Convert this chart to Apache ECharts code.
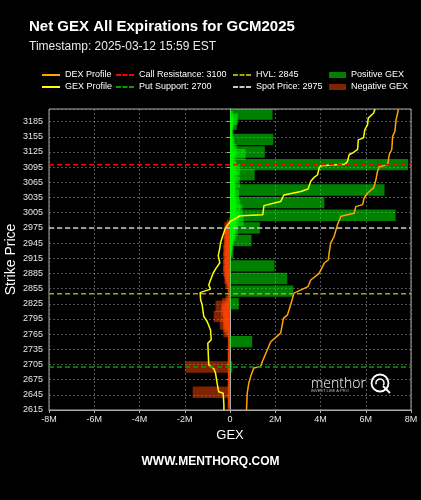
<!DOCTYPE html>
<html><head><meta charset="utf-8">
<script src="https://cdn.jsdelivr.net/npm/echarts@6/dist/echarts.min.js"></script>
<style>html,body{margin:0;padding:0;background:#000;}#c{width:421px;height:500px;}</style>
</head><body><div id="c"></div>
<script>
// ---------- data ----------
const strikeMin = 2615, strikeMax = 3210, strikeStep = 30;
const gexMin = -8, gexMax = 8, gexStep = 2;

const posStrikes = [3200,3195,3190,3185,3180,3175,3170,3165,3160,3155,3150,3145,3140,3135,3130,3125,3120,3115,3110,3105,3100,3095,3090,3085,3080,3075,3070,3065,3060,3055,3050,3045,3040,3035,3030,3025,3020,3015,3010,3005,3000,2995,2990,2985,2980,2975,2970,2965,2960,2955,2950,2945,2940,2935,2930,2925,2900,2875,2850,2825,2750,2700];
const posGex =     [1.88,0.15,0.35,0.15,0.30,0.10,0.15,0.10,0.10,0.10,1.91,0.15,0.20,0.10,0.30,1.54,0.69,0.15,0.25,0.15,7.87,0.30,0.45,0.20,1.09,0.35,0.20,0.45,0.20,0.25,6.83,0.20,0.40,0.20,0.30,4.17,0.45,0.25,0.55,0.25,7.32,0.40,0.60,0.30,0.25,1.32,0.35,0.20,0.25,0.15,0.95,0.15,0.10,0.08,0.08,0.15,1.97,2.53,2.80,0.39,0.98,0.10];

const negStrikes = [2985,2980,2975,2970,2965,2960,2955,2950,2945,2940,2935,2930,2925,2920,2915,2910,2905,2900,2895,2890,2885,2880,2875,2870,2865,2860,2855,2850,2845,2840,2835,2830,2825,2820,2815,2810,2805,2800,2795,2790,2785,2780,2775,2770,2765,2760,2755,2750,2745,2740,2735,2730,2725,2720,2715,2710,2705,2700,2695,2690,2685,2680,2675,2670,2665,2660,2655,2650,2645,2640,2635,2630,2625,2620];
const negGex =     [-0.05,-0.15,-0.25,-0.20,-0.28,-0.20,-0.25,-0.20,-0.28,-0.20,-0.25,-0.30,-0.20,-0.25,-0.30,-0.20,-0.25,-0.30,-0.20,-0.30,-0.25,-0.20,-0.25,-0.15,-0.20,-0.10,-0.10,-0.05,-0.05,-0.10,-0.10,-0.20,-0.35,-0.64,-0.30,-0.40,-0.30,-0.72,-0.30,-0.25,-0.45,-0.30,-0.20,-0.29,-0.10,-0.08,-0.08,-0.10,-0.05,-0.08,-0.08,-0.10,-0.08,-0.08,-0.10,-0.08,-0.10,-1.97,-0.10,-0.08,-0.08,-0.10,-0.08,-0.08,-0.10,-0.08,-0.10,-1.65,-0.10,-0.08,-0.08,-0.10,-0.08,-0.10];

const gexProfileStrikes = [3210,3202,3192,3179,3169,3153,3149,3130,3123,3120,3106,3101,3098,3093,3080,3075,3067,3052,3047,3040,3027,3019,3001,2999,2995,2988,2975,2958,2945,2935,2920,2906,2895,2885,2872,2862,2854,2847,2833,2823,2800,2790,2773,2754,2747,2704,2701,2697,2688,2668,2651,2648,2625,2615];
const gexProfileValues  = [6.41,6.35,6.11,6.08,5.96,5.90,5.67,5.64,5.42,5.27,5.19,5.08,4.01,3.94,3.87,3.72,3.57,3.45,3.13,2.38,2.24,1.50,1.45,0.45,0.30,0.02,-0.20,-0.33,-0.42,-0.45,-0.52,-0.45,-0.62,-0.75,-0.86,-0.94,-0.86,-1.32,-1.30,-1.23,-1.16,-1.01,-0.86,-0.83,-0.98,-0.94,-0.90,-0.72,-0.64,-0.57,-0.50,-0.30,-0.27,-0.27];

const dexProfileStrikes = [3210,3202,3189,3166,3156,3130,3120,3106,3100,3096,3087,3070,3054,3044,3034,3021,3017,3004,2998,2981,2958,2945,2925,2912,2905,2885,2872,2859,2846,2823,2803,2796,2767,2750,2734,2711,2701,2698,2681,2668,2648,2615];
const dexProfileValues  = [7.44,7.41,7.34,7.29,7.19,7.15,7.04,6.99,6.97,6.60,6.52,6.45,6.35,6.08,5.93,5.86,5.56,5.49,4.90,4.75,4.60,4.45,4.38,4.35,4.16,3.94,3.57,3.45,2.83,2.68,2.54,2.36,2.24,1.80,1.65,1.43,1.35,1.05,0.91,0.83,0.76,0.73];

const callResistance = 3100, putSupport = 2700, hvl = 2845, spotPrice = 2975;
const titleText = 'Net GEX All Expirations for GCM2025';
const subtitleText = 'Timestamp: 2025-03-12 15:59 EST';

// ---------- chart ----------
const FONT = '"Liberation Sans", Arial, sans-serif';
const BAR_H = 22.5;
const chart = echarts.init(document.getElementById('c'), null, {renderer:'canvas'});

function barRender(params, api) {
  const v = api.value(0), s = api.value(1);
  const a = api.coord([0, s + BAR_H / 2]);
  const b = api.coord([v, s - BAR_H / 2]);
  const cs = params.coordSys;
  const r = echarts.graphic.clipRectByRect(
    {x: Math.min(a[0], b[0]), y: Math.min(a[1], b[1]), width: Math.abs(b[0] - a[0]), height: Math.abs(b[1] - a[1])},
    {x: cs.x, y: cs.y, width: cs.width, height: cs.height});
  return r && {type: 'rect', shape: r, style: {fill: api.visual('color')}};
}
const zip = (xs, ys) => xs.map((s, i) => [ys[i], s]);
const levelLine = (name, level, color) => ({
  name, type: 'line', data: [[gexMin, level], [gexMax, level]], symbol: 'none', silent: true, z: 6,
  lineStyle: {color, width: 1.5, type: [5, 3]}, itemStyle: {color}
});

const SOLID_ICON = 'path://M0,0h18v2h-18z';
const DASH_ICON = 'path://M0,0h5v2h-5z M6.5,0h5v2h-5z M13,0h5v2h-5z';
const legendBase = {orient: 'vertical', top: 70, padding: 0, itemGap: 2, itemWidth: 18, itemHeight: 2,
  selectedMode: false, textStyle: {color: '#ffffff', fontSize: 9, fontFamily: FONT, lineHeight: 10}};

const option = {
  backgroundColor: '#000000',
  animation: false,
  textStyle: {fontFamily: FONT},
  title: [
    {text: titleText, left: 29, top: 19, padding: 0, textStyle: {color: '#ffffff', fontSize: 15, fontWeight: 'bold', fontFamily: FONT}},
    {text: subtitleText, left: 29, top: 41, padding: 0, textStyle: {color: '#e8e8e8', fontSize: 12, fontWeight: 'normal', fontFamily: FONT}},
    {text: 'WWW.MENTHORQ.COM', left: 'center', top: 456, padding: 0, textStyle: {color: '#ffffff', fontSize: 12, fontWeight: 'bold', fontFamily: FONT}}
  ],
  legend: [
    Object.assign({}, legendBase, {left: 42, data: [{name: 'DEX Profile', icon: SOLID_ICON}, {name: 'GEX Profile', icon: SOLID_ICON}]}),
    Object.assign({}, legendBase, {left: 116, data: [{name: 'Call Resistance: ' + callResistance, icon: DASH_ICON}, {name: 'Put Support: ' + putSupport, icon: DASH_ICON}]}),
    Object.assign({}, legendBase, {left: 233, data: [{name: 'HVL: ' + hvl, icon: DASH_ICON}, {name: 'Spot Price: ' + spotPrice, icon: DASH_ICON}]}),
    Object.assign({}, legendBase, {left: 329, top: 70, itemGap: 2, itemWidth: 17, itemHeight: 6,
      data: [{name: 'Positive GEX', icon: 'rect'}, {name: 'Negative GEX', icon: 'rect'}]})
  ],
  grid: {left: 49, right: 10, top: 109, bottom: 90, show: true, borderColor: '#aaaaaa', borderWidth: 1,
    containLabel: false, outerBoundsMode: 'none'},
  xAxis: {
    type: 'value', min: gexMin, max: gexMax, interval: gexStep,
    name: 'GEX', nameLocation: 'middle', nameGap: 15,
    nameTextStyle: {color: '#ffffff', fontSize: 13, fontFamily: FONT},
    axisLine: {show: true, lineStyle: {color: '#aaaaaa'}},
    axisTick: {show: true, length: 3, lineStyle: {color: '#aaaaaa'}},
    axisLabel: {color: '#e6e6e6', fontSize: 9, margin: 5, fontFamily: FONT,
      formatter: v => v === 0 ? '0' : v + 'M'},
    splitLine: {show: true, lineStyle: {color: 'rgba(150,150,150,0.55)', type: [2, 2], width: 1}}
  },
  yAxis: {
    type: 'value', min: strikeMin, max: strikeMax, interval: strikeStep,
    name: 'Strike Price', nameLocation: 'middle', nameGap: 31, nameMoveOverlap: false,
    nameTextStyle: {color: '#ffffff', fontSize: 14, fontFamily: FONT},
    axisLine: {show: true, lineStyle: {color: '#aaaaaa'}},
    axisTick: {show: true, length: 3, lineStyle: {color: '#aaaaaa'}},
    axisLabel: {color: '#e6e6e6', fontSize: 9, margin: 6, fontFamily: FONT, showMaxLabel: false,
      formatter: v => String(v)},
    splitLine: {show: true, lineStyle: {color: 'rgba(150,150,150,0.55)', type: [2, 2], width: 1}}
  },
  series: [
    {name: 'Positive GEX', type: 'custom', renderItem: barRender, data: zip(posStrikes, posGex),
      encode: {x: 0, y: 1}, itemStyle: {color: 'rgba(0,255,0,0.5)'}, z: 2, silent: true},
    {name: 'Negative GEX', type: 'custom', renderItem: barRender, data: zip(negStrikes, negGex),
      encode: {x: 0, y: 1}, itemStyle: {color: 'rgba(255,69,0,0.5)'}, z: 2, silent: true},
    {name: 'DEX Profile', type: 'line', data: zip(dexProfileStrikes, dexProfileValues), symbol: 'none', z: 4,
      lineStyle: {color: '#ffa500', width: 1.5}, itemStyle: {color: '#ffa500'}},
    {name: 'GEX Profile', type: 'line', data: zip(gexProfileStrikes, gexProfileValues), symbol: 'none', z: 4,
      lineStyle: {color: '#ffff00', width: 1.5}, itemStyle: {color: '#ffff00'}},
    levelLine('Call Resistance: ' + callResistance, callResistance, '#ff0000'),
    levelLine('Put Support: ' + putSupport, putSupport, '#00a000'),
    levelLine('HVL: ' + hvl, hvl, '#a8a800'),
    levelLine('Spot Price: ' + spotPrice, spotPrice, '#c8c8c8')
  ],
  graphic: [
    {type: 'text', left: 311, top: 377, z: 10, silent: true,
      style: {text: 'menthor', fill: '#ffffff', fontSize: 14, fontFamily: '"Open Sans", sans-serif', fontWeight: 300}},
    {type: 'text', left: 311, top: 389, z: 10, silent: true,
      style: {text: 'INVEST LIKE A PRO', fill: '#bbbbbb', fontSize: 4, fontFamily: FONT}},
    {type: 'circle', z: 10, silent: true, shape: {cx: 380, cy: 383, r: 8.5},
      style: {fill: 'none', stroke: '#ffffff', lineWidth: 1.8}},
    {type: 'arc', z: 10, silent: true, shape: {cx: 380, cy: 383, r: 4, startAngle: Math.PI * 0.9, endAngle: Math.PI * 2.2},
      style: {fill: 'none', stroke: '#ffffff', lineWidth: 1.5}},
    {type: 'line', z: 10, silent: true, shape: {x1: 383, y1: 386, x2: 390, y2: 393},
      style: {stroke: '#ffffff', lineWidth: 1.8}}
  ]
};
chart.setOption(option);
</script>
</body></html>
